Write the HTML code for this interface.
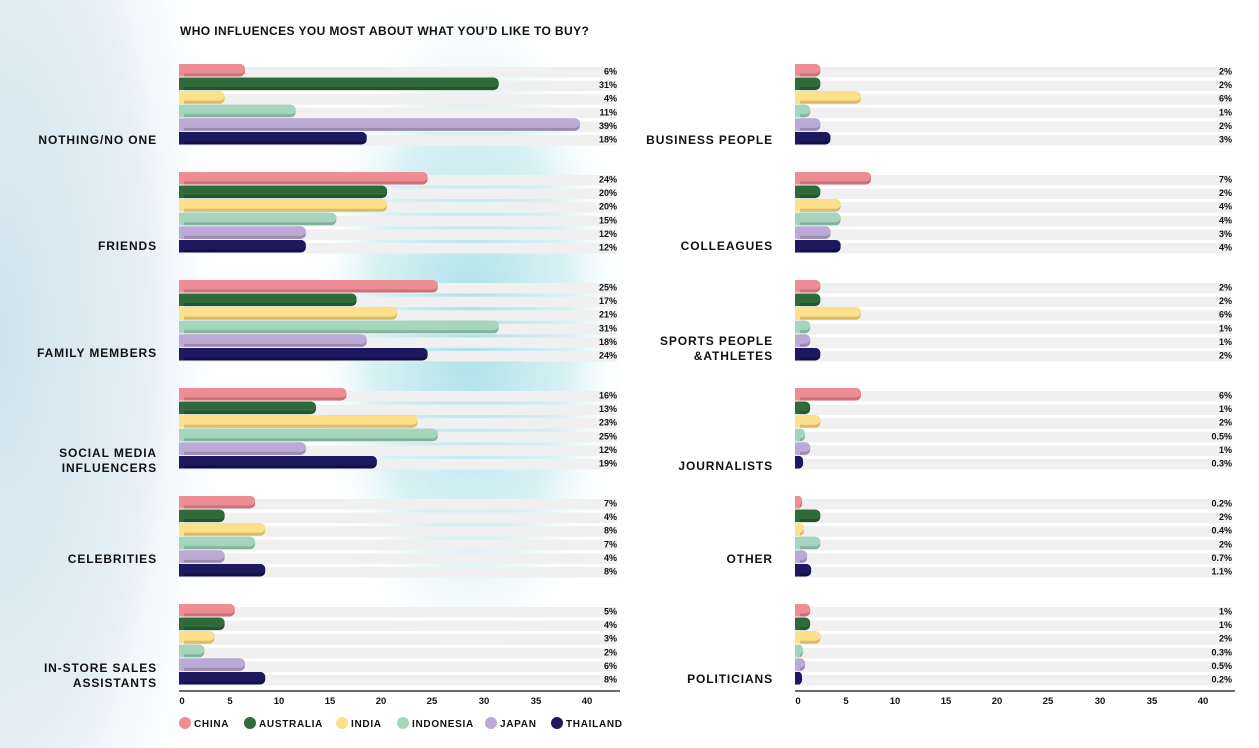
<!DOCTYPE html>
<html><head><meta charset="utf-8"><style>
html,body{margin:0;padding:0;background:#fff;}
svg{display:block;font-family:"Liberation Sans",Arial,sans-serif;}
.v{font-size:9px;font-weight:bold;fill:#111;text-anchor:end;}
.c{font-size:12px;font-weight:bold;fill:#111;text-anchor:end;letter-spacing:0.9px;}
.t{font-size:9.5px;font-weight:bold;fill:#111;text-anchor:middle;}
.l{font-size:10px;font-weight:bold;fill:#111;letter-spacing:0.7px;}
</style></head><body>
<svg id="s" width="1259" height="748" viewBox="0 0 1259 748" xmlns="http://www.w3.org/2000/svg">
<defs>
<radialGradient id="bl" cx="0" cy="0.45" r="1" gradientTransform="scale(0.35,1)">
<stop offset="0" stop-color="#cfe3ee"/><stop offset="0.6" stop-color="#e6f0f5"/><stop offset="1" stop-color="#ffffff" stop-opacity="0"/></radialGradient>
<radialGradient id="cy" cx="470" cy="330" r="220" gradientUnits="userSpaceOnUse" gradientTransform="translate(470 330) scale(0.75 1.6) translate(-470 -330)">
<stop offset="0" stop-color="#a9e0e8"/><stop offset="0.6" stop-color="#c6ebef" stop-opacity="0.7"/><stop offset="1" stop-color="#ffffff" stop-opacity="0"/></radialGradient>
</defs>
<rect width="1259" height="748" fill="#fff"/>
<rect width="700" height="748" fill="url(#bl)"/>
<rect x="180" y="0" width="580" height="748" fill="url(#cy)"/>
<text x="180" y="35" style="font-size:12px;font-weight:bold;fill:#111;letter-spacing:0.4px">WHO INFLUENCES YOU MOST ABOUT WHAT YOU’D LIKE TO BUY?</text>
<g id="bars"></g>

<g transform="translate(0,64)"><text class="v" x="617" y="10.5">6%</text><text class="v" x="617" y="24.1">31%</text><text class="v" x="617" y="37.7">4%</text><text class="v" x="617" y="51.3">11%</text><text class="v" x="617" y="64.9">39%</text><text class="v" x="617" y="78.5">18%</text>
<text class="v" x="1232" y="10.5">2%</text><text class="v" x="1232" y="24.1">2%</text><text class="v" x="1232" y="37.7">6%</text><text class="v" x="1232" y="51.3">1%</text><text class="v" x="1232" y="64.9">2%</text><text class="v" x="1232" y="78.5">3%</text>
<text class="c" x="157" y="80">NOTHING/NO ONE</text><text class="c" x="773" y="80">BUSINESS PEOPLE</text></g>
<g transform="translate(0,172)"><text class="v" x="617" y="10.5">24%</text><text class="v" x="617" y="24.1">20%</text><text class="v" x="617" y="37.7">20%</text><text class="v" x="617" y="51.3">15%</text><text class="v" x="617" y="64.9">12%</text><text class="v" x="617" y="78.5">12%</text>
<text class="v" x="1232" y="10.5">7%</text><text class="v" x="1232" y="24.1">2%</text><text class="v" x="1232" y="37.7">4%</text><text class="v" x="1232" y="51.3">4%</text><text class="v" x="1232" y="64.9">3%</text><text class="v" x="1232" y="78.5">4%</text>
<text class="c" x="157" y="78">FRIENDS</text><text class="c" x="773" y="78">COLLEAGUES</text></g>
<g transform="translate(0,280)"><text class="v" x="617" y="10.5">25%</text><text class="v" x="617" y="24.1">17%</text><text class="v" x="617" y="37.7">21%</text><text class="v" x="617" y="51.3">31%</text><text class="v" x="617" y="64.9">18%</text><text class="v" x="617" y="78.5">24%</text>
<text class="v" x="1232" y="10.5">2%</text><text class="v" x="1232" y="24.1">2%</text><text class="v" x="1232" y="37.7">6%</text><text class="v" x="1232" y="51.3">1%</text><text class="v" x="1232" y="64.9">1%</text><text class="v" x="1232" y="78.5">2%</text>
<text class="c" x="157" y="77">FAMILY MEMBERS</text><text class="c" x="773" y="65">SPORTS PEOPLE</text><text class="c" x="773" y="80">&amp;ATHLETES</text></g>
<g transform="translate(0,388)"><text class="v" x="617" y="10.5">16%</text><text class="v" x="617" y="24.1">13%</text><text class="v" x="617" y="37.7">23%</text><text class="v" x="617" y="51.3">25%</text><text class="v" x="617" y="64.9">12%</text><text class="v" x="617" y="78.5">19%</text>
<text class="v" x="1232" y="10.5">6%</text><text class="v" x="1232" y="24.1">1%</text><text class="v" x="1232" y="37.7">2%</text><text class="v" x="1232" y="51.3">0.5%</text><text class="v" x="1232" y="64.9">1%</text><text class="v" x="1232" y="78.5">0.3%</text>
<text class="c" x="157" y="69">SOCIAL MEDIA</text><text class="c" x="157" y="84">INFLUENCERS</text><text class="c" x="773" y="82">JOURNALISTS</text></g>
<g transform="translate(0,496)"><text class="v" x="617" y="10.5">7%</text><text class="v" x="617" y="24.1">4%</text><text class="v" x="617" y="37.7">8%</text><text class="v" x="617" y="51.3">7%</text><text class="v" x="617" y="64.9">4%</text><text class="v" x="617" y="78.5">8%</text>
<text class="v" x="1232" y="10.5">0.2%</text><text class="v" x="1232" y="24.1">2%</text><text class="v" x="1232" y="37.7">0.4%</text><text class="v" x="1232" y="51.3">2%</text><text class="v" x="1232" y="64.9">0.7%</text><text class="v" x="1232" y="78.5">1.1%</text>
<text class="c" x="157" y="67">CELEBRITIES</text><text class="c" x="773" y="67">OTHER</text></g>
<g transform="translate(0,604)"><text class="v" x="617" y="10.5">5%</text><text class="v" x="617" y="24.1">4%</text><text class="v" x="617" y="37.7">3%</text><text class="v" x="617" y="51.3">2%</text><text class="v" x="617" y="64.9">6%</text><text class="v" x="617" y="78.5">8%</text>
<text class="v" x="1232" y="10.5">1%</text><text class="v" x="1232" y="24.1">1%</text><text class="v" x="1232" y="37.7">2%</text><text class="v" x="1232" y="51.3">0.3%</text><text class="v" x="1232" y="64.9">0.5%</text><text class="v" x="1232" y="78.5">0.2%</text>
<text class="c" x="157" y="68">IN-STORE SALES</text><text class="c" x="157" y="83">ASSISTANTS</text><text class="c" x="773" y="79">POLITICIANS</text></g>

<line x1="179" y1="691" x2="620" y2="691" stroke="#111" stroke-width="1.2"/>
<line x1="795" y1="691" x2="1235" y2="691" stroke="#111" stroke-width="1.2"/>
<g class="t">
<text class="t" x="182" y="704">0</text><text class="t" x="230" y="704">5</text><text class="t" x="279" y="704">10</text><text class="t" x="330" y="704">15</text><text class="t" x="381" y="704">20</text><text class="t" x="432" y="704">25</text><text class="t" x="484" y="704">30</text><text class="t" x="536" y="704">35</text><text class="t" x="587" y="704">40</text>
<text class="t" x="798" y="704">0</text><text class="t" x="846" y="704">5</text><text class="t" x="895" y="704">10</text><text class="t" x="946" y="704">15</text><text class="t" x="997" y="704">20</text><text class="t" x="1048" y="704">25</text><text class="t" x="1100" y="704">30</text><text class="t" x="1152" y="704">35</text><text class="t" x="1203" y="704">40</text>
</g>
<circle cx="185" cy="723" r="6" fill="#ee8d95"/><text class="l" x="194" y="727">CHINA</text>
<circle cx="250" cy="723" r="6" fill="#2f6b3a"/><text class="l" x="259" y="727">AUSTRALIA</text>
<circle cx="342" cy="723" r="6" fill="#fde08a"/><text class="l" x="351" y="727">INDIA</text>
<circle cx="403" cy="723" r="6" fill="#a6d5bd"/><text class="l" x="412" y="727">INDONESIA</text>
<circle cx="491" cy="723" r="6" fill="#bbaad5"/><text class="l" x="500" y="727">JAPAN</text>
<circle cx="557" cy="723" r="6" fill="#1d1860"/><text class="l" x="566" y="727">THAILAND</text>
</svg>
<script>
var cols=["#ee8d95","#2f6b3a","#fde08a","#a6d5bd","#bbaad5","#1d1860"];
var sh=["#c97079","#24532c","#d9bb6a","#84b49b","#9b8bb4","#120f45"];
var L=[[6,31,4,11,39,18],[24,20,20,15,12,12],[25,17,21,31,18,24],[16,13,23,25,12,19],[7,4,8,7,4,8],[5,4,3,2,6,8]];
var R=[[2,2,6,1,2,3],[7,2,4,4,3,4],[2,2,6,1,1,2],[6,1,2,0.5,1,0.3],[0.2,2,0.4,2,0.7,1.1],[1,1,2,0.3,0.5,0.2]];
var g=document.getElementById("bars"),h="";
function panel(D,x0,xe){for(var k=0;k<6;k++)for(var i=0;i<6;i++){var y=64+108*k+13.6*i;
h+='<rect x="'+x0+'" y="'+(y+3)+'" width="'+(xe-x0)+'" height="10.5" fill="#f0f0f0"/>';
var w=D[k][i]*10.15+5;
h+='<rect x="'+x0+'" y="'+y+'" width="'+w+'" height="12.5" rx="5" fill="'+sh[i]+'"/>';
h+='<rect x="'+x0+'" y="'+y+'" width="'+w+'" height="9.5" rx="5" fill="'+cols[i]+'"/>';
h+='<rect x="'+x0+'" y="'+y+'" width="'+Math.min(w,5)+'" height="12.5" fill="'+cols[i]+'"/>';}}
panel(L,179,617);panel(R,795,1232);g.innerHTML=h;
</script>
</body></html>
